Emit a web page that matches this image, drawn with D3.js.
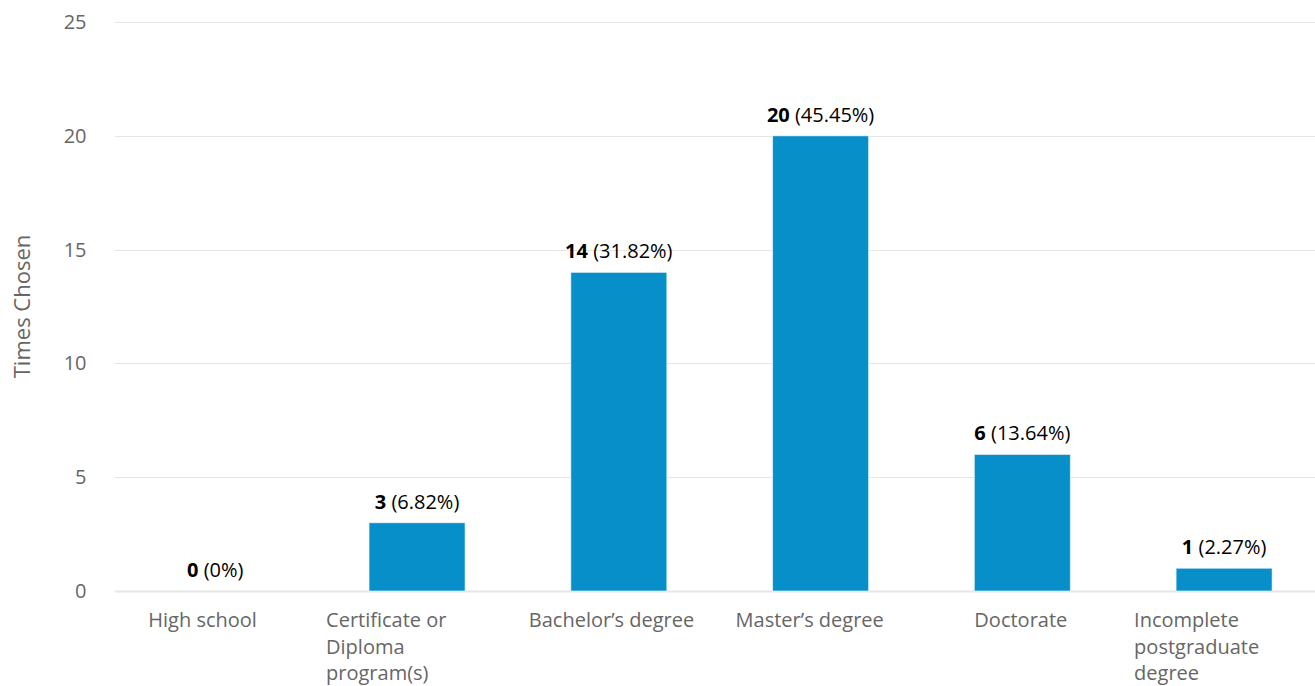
<!DOCTYPE html>
<html>
<head>
<meta charset="utf-8">
<script src="https://cdn.jsdelivr.net/npm/d3@7"></script>
<style>
  html, body { margin: 0; padding: 0; background: #fff; }
  svg { display: block; font-family: "Open Sans", "Noto Sans", sans-serif; }
</style>
</head>
<body>
<svg id="chart" width="1315" height="686"></svg>
<script>
// Survey responses: highest level of education
const categories = [
  ["High school"],
  ["Certificate or", "Diploma", "program(s)"],
  ["Bachelor\u2019s degree"],
  ["Master\u2019s degree"],
  ["Doctorate"],
  ["Incomplete", "postgraduate", "degree"]
];
const counts = [0, 3, 14, 20, 6, 1];
const percents = ["0%", "6.82%", "31.82%", "45.45%", "13.64%", "2.27%"];
const yTicks = [0, 5, 10, 15, 20, 25];

// horizontal nudge of each category label's left edge from its band centre
const labelShift = [-67, -91, -90, -85, -48, -90];

const W = 1315, H = 686;
const FONT = 20;
const svg = d3.select("#chart");

const x = d3.scaleBand()
  .domain(d3.range(categories.length))
  .range([114.4, 1325])
  .paddingInner(0.524)
  .paddingOuter(0.262);

const y = d3.scaleLinear().domain([0, 25]).range([591, 22]);

// gridlines
const grid = svg.append("g");
grid.selectAll("line")
  .data(yTicks)
  .join("line")
  .attr("x1", 115).attr("x2", W)
  .attr("y1", d => Math.round(y(d)) + 0.5)
  .attr("y2", d => Math.round(y(d)) + 0.5)
  .attr("stroke", "#e6e6e6")
  .attr("stroke-width", d => d === 0 ? 2 : 1);

// y axis labels
const yAxis = d3.axisLeft(y).tickValues(yTicks).tickSize(0).tickPadding(0);
const ya = svg.append("g").attr("transform", "translate(86.5,0)").call(yAxis);
ya.select(".domain").remove();
ya.selectAll("text")
  .attr("font-size", FONT)
  .attr("fill", "#666")
  .attr("font-family", "'Open Sans', sans-serif");

// axis title
svg.append("text")
  .attr("transform", `translate(29.5,${(y(0) + y(25)) / 2}) rotate(-90)`)
  .attr("text-anchor", "middle")
  .attr("font-size", 22)
  .attr("fill", "#666")
  .text("Times Chosen");

// bars
svg.append("g").selectAll("rect")
  .data(counts)
  .join("rect")
  .attr("x", (d, i) => x(i))
  .attr("width", x.bandwidth())
  .attr("y", d => y(d))
  .attr("height", d => y(0) - y(d))
  .attr("fill", "#068fc9")
  .attr("stroke", "#ffffff")
  .attr("stroke-width", 1)
  .attr("stroke-opacity", d => d > 0 ? 0.6 : 0);

// value labels
const vl = svg.append("g").selectAll("text")
  .data(counts)
  .join("text")
  .attr("x", (d, i) => x(i) + x.bandwidth() / 2)
  .attr("y", d => y(d) - 14)
  .attr("text-anchor", "middle")
  .attr("font-size", FONT)
  .attr("fill", "#000");
vl.append("tspan").attr("font-weight", "bold").text(d => d);
vl.append("tspan").text((d, i) => " (" + percents[i] + ")");

// category labels
const cl = svg.append("g").selectAll("text")
  .data(categories)
  .join("text")
  .attr("x", (d, i) => x(i) + x.bandwidth() / 2 + labelShift[i])
  .attr("y", 627)
  .attr("font-size", FONT)
  .attr("fill", "#666");
cl.selectAll("tspan")
  .data((d, i) => d.map(t => ({ t, i })))
  .join("tspan")
  .attr("x", d => x(d.i) + x.bandwidth() / 2 + labelShift[d.i])
  .attr("dy", (d, j) => j === 0 ? 0 : 26.5)
  .text(d => d.t);
</script>
</body>
</html>
